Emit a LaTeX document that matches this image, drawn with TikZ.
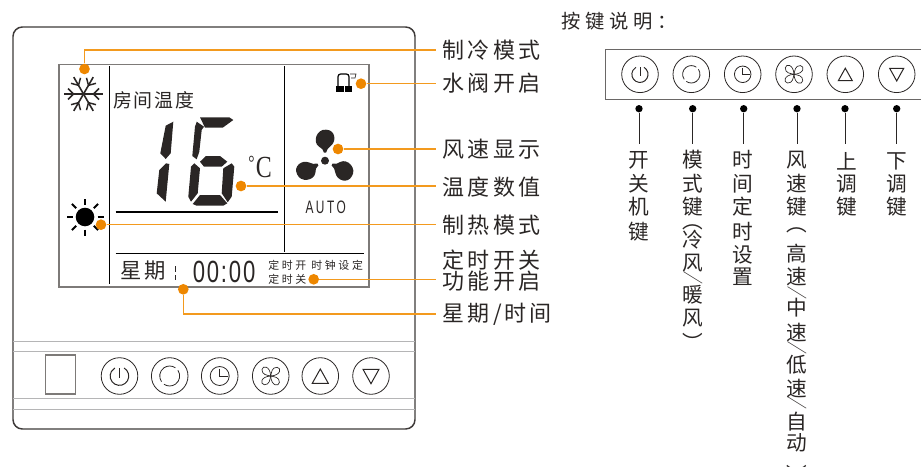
\documentclass[tikz,border=0pt]{standalone}
\usepackage{fontspec}
\setmainfont{Noto Sans CJK SC}
\newfontfamily\labelfont[LetterSpace=14]{Noto Sans CJK SC}
\newfontfamily\smallfont[LetterSpace=24]{Noto Sans CJK SC}
\newfontfamily\roomfont[LetterSpace=9]{Noto Sans CJK SC}
\newfontfamily\titlefont[LetterSpace=24]{Noto Sans CJK SC}
\newfontfamily\autofont[FakeStretch=0.66,LetterSpace=14]{Liberation Sans}
\newfontfamily\clockfont[FakeStretch=0.72,LetterSpace=6]{Liberation Sans}
\newfontfamily\unitfont[FakeStretch=0.78]{Liberation Serif}
\definecolor{inkline}{HTML}{2A2625}
\definecolor{framegrey}{HTML}{3E3A39}
\definecolor{panelgrey}{HTML}{6A6766}
\definecolor{lcdgrey}{HTML}{7D7A78}
\definecolor{softgrey}{HTML}{B5B5B6}
\definecolor{leadline}{HTML}{F39A1E}
\definecolor{leaddot}{HTML}{EE8700}
\newcommand{\vslash}{\scalebox{1}[0.62]{\rotatebox[origin=c]{-90}{／}}}
\tikzset{
  x=0.75pt,y=-0.75pt,
  lead/.style={leadline,line width=1.1pt},
  leaddotn/.style={circle,fill=leaddot,inner sep=0pt,minimum size=8pt},
  rightlabel/.style={anchor=west,inner xsep=5pt,inner ysep=0pt,font=\labelfont\fontsize{16.5pt}{17.5pt}\selectfont,text=inkline,align=left},
  keydot/.style={circle,fill=black,inner sep=0pt,minimum size=5.5pt},
  keyline/.style={inkline,line width=0.6pt},
  vchar/.style={inner sep=0pt,font=\fontsize{15.5pt}{16pt}\selectfont,text=inkline},
  lcdline/.style={black,line width=0.8pt},
  segment/.style={fill=inkline,draw=none},
  fanpetal/.pic={
    \draw[inkline,line width=0.5pt] (0,0) .. controls (-3,-2) and (-8,-4) .. (-6,-9) .. controls (-4,-13) and (3,-10) .. (0,0);
  },
  bigblade/.pic={
    \fill[inkline] (-1,-8) .. controls (-1.5,-11) and (-3,-12) .. (-6,-14) .. controls (-13,-19) and (-8,-32) .. (1,-31) .. controls (10,-31) and (12,-20) .. (6,-15) .. controls (3,-13) and (2,-11) .. (1,-8) -- cycle;
  },
  keyring/.pic={\draw[inkline,line width=0.6pt] (0,0) circle[radius=18.3];},
  poweric/.pic={
    \draw[inkline,line width=0.75pt] (4.6,-8) arc[start angle=-60,end angle=240,radius=9.3];
    \draw[inkline,line width=0.75pt] (0,-8) -- (0,2);
    \pic {keyring};
  },
  modeic/.pic={
    \draw[inkline,line width=0.6pt] (0,0) ++(-35:10) arc[start angle=-35,end angle=125,radius=10];
    \draw[inkline,line width=0.6pt] (0,0) ++(145:10) arc[start angle=145,end angle=305,radius=10];
    \pic {keyring};
  },
  clockic/.pic={
    \draw[inkline,line width=0.6pt] (0,0) circle[radius=9.5];
    \draw[inkline,line width=0.6pt] (0,-7.5) -- (0,0) -- (8,0);
    \pic {keyring};
  },
  fanic/.pic={
    \foreach \ang in {20,110,200,290} \pic[rotate=\ang] {fanpetal};
    \pic {keyring};
  },
  upic/.pic={
    \draw[inkline,line width=0.75pt] (0,-7) -- (8,7.3) -- (-8,7.3) -- cycle;
    \pic {keyring};
  },
  downic/.pic={
    \draw[inkline,line width=0.75pt] (0,7.7) -- (8,-6.7) -- (-8,-6.7) -- cycle;
    \pic {keyring};
  },
}
\begin{document}
\begin{tikzpicture}
    \useasboundingbox (0,0) rectangle (921,467);

    % pannello
    \draw[framegrey,line width=1.1pt,rounded corners=7pt] (13,27) rectangle (415,429);
    \foreach \y in {341,351,398,409} \draw[softgrey,line width=0.7pt] (13,\y) -- (415,\y);
    \draw[lcdgrey,line width=0.9pt] (45.5,355) rectangle (75.5,394);

    % tasti del pannello
    \pic at (119.5,376) {poweric};
    \pic at (169.7,376) {modeic};
    \pic at (219.7,376) {clockic};
    \pic at (270.7,376) {fanic};
    \pic at (320.3,376) {upic};
    \pic at (371,376) {downic};

    % display
    \draw[lcdgrey,line width=1pt] (59,64.5) rectangle (369,287);
    \draw[lcdline] (109.5,66) -- (109.5,284);
    \draw[lcdline] (284.5,66) -- (284.5,252);
    \draw[lcdline] (115.5,212) -- (278,212);
    \draw[lcdline] (115.5,253.7) -- (364,253.7);

    % fiocco di neve
    \foreach \ang in {0,60,...,300} {
        \begin{scope}[shift={(83.5,94)},rotate=\ang]
            \draw[inkline,line width=1.2pt] (0,0) -- (19.5,0);
            \draw[inkline,line width=1.1pt] (10,0) -- (15.5,-5.5);
            \draw[inkline,line width=1.1pt] (10,0) -- (15.5,5.5);
        \end{scope}
    }

    % sole
    \fill[black] (85,217) circle[radius=9.3];
    \foreach \ang in {0,45,...,315} {
        \draw[black,line width=1.5pt,shift={(85,217)},rotate=\ang] (12.5,0) -- (18.5,0);
    }

    % testi del display
    \node[inner sep=0pt,anchor=west,font=\roomfont\fontsize{14.2pt}{15pt}\selectfont,text=inkline] (roomtemp) at (113,100) {房间温度};
    \node[inner sep=0pt,anchor=west,font=\labelfont\fontsize{16pt}{17pt}\selectfont,text=inkline] (weekday) at (120,271) {星期};
    \node[inner sep=0pt,anchor=west,font=\clockfont\fontsize{23pt}{24pt}\selectfont,text=inkline] (clocktime) at (192.5,272) {00:00};
    \node[inner sep=0pt,anchor=west,font=\smallfont\fontsize{8.2pt}{9pt}\selectfont,text=inkline] (timeron) at (268,265) {定时开 时钟设定};
    \node[inner sep=0pt,anchor=west,font=\smallfont\fontsize{8.2pt}{9pt}\selectfont,text=inkline] (timeroff) at (268,279) {定时关};
    \node[inner sep=0pt,font=\autofont\fontsize{13.5pt}{14pt}\selectfont,text=inkline] (autotext) at (325.7,207) {AUTO};
    \node[inner sep=0pt,anchor=west,font=\fontsize{23pt}{23pt}\selectfont,text=inkline] (celsius) at (248,167) {\unitfont\raisebox{6pt}{\fontsize{15pt}{15pt}\selectfont°}\kern1pt C};

    % separatori del giorno
    \draw[inkline,line width=1pt] (175.7,266) -- (175.7,272);
    \draw[inkline,line width=1pt] (175.7,275) -- (175.7,280);

    % cifra 1
    \fill[segment] (165.7,125.7) -- (173.3,121.7) -- (170.7,153.3) -- (165.7,159) -- (160.3,153.3) -- cycle;
    \fill[segment] (166,163.3) -- (169.3,164) -- (165.7,201.7) -- (156.7,193.3) -- (159.3,170) -- cycle;
    % cifra 6
    \fill[segment] (200,117.3) -- (229.3,117.3) -- (233.3,120) -- (222.7,127.7) -- (205,127.7) -- cycle;
    \fill[segment] (196.7,121.7) -- (204,126.7) -- (201.7,130) -- (199.3,151.7) -- (196.7,159.3) -- (192.3,156) -- (195,126.7) -- cycle;
    \fill[segment] (200,161.7) -- (206,156) -- (220,156) -- (227.3,161.7) -- (221.7,166.7) -- (204,166.7) -- cycle;
    \fill[segment] (194.3,163.3) -- (200,168.3) -- (197.7,193.3) -- (191,201.7) -- (188.3,196.7) -- (191,166.7) -- cycle;
    \fill[segment] (231.7,163.3) -- (234.3,166.7) -- (231.7,196.7) -- (227.7,202.3) -- (221.7,193.3) -- (223.3,168.3) -- cycle;
    \fill[segment] (192.7,204) -- (200,195) -- (220,195) -- (227.3,203.3) -- (223.3,205.7) -- (196.7,205.7) -- cycle;

    % ventola grande
    \fill[inkline] (325,160.7) circle[radius=4];
    \pic at (325,160.7) {bigblade};
    \pic[rotate=118] at (325,160.7) {bigblade};
    \pic[rotate=-118] at (325,160.7) {bigblade};

    % valvola
    \fill[black] (336,86) rectangle (344,91.7);
    \fill[black] (345,86) rectangle (352,91.7);
    \draw[black,line width=0.9pt,rounded corners=2pt] (338,86) -- (338,74) -- (349,74) -- (349,86);
    \draw[inkline,line width=0.5pt] (350,74) -- (356,74) -- (355,78) -- (351,78);

    % etichette a destra
    \node[rightlabel] (lblcool) at (436,50) {制冷模式};
    \node[rightlabel] (lblwater) at (436,83) {水阀开启};
    \node[rightlabel] (lblfan) at (436,149) {风速显示};
    \node[rightlabel] (lbltemp) at (436,187) {温度数值};
    \node[rightlabel] (lblheat) at (436,225) {制热模式};
    \node[rightlabel] (lbltimer) at (436,270.5) {定时开关\\[-1.5pt]功能开启};
    \node[rightlabel] (lblweek) at (436,314) {星期/时间};

    % punti arancioni
    \node[leaddotn] (dotcool) at (84.5,69) {};
    \node[leaddotn] (dotwater) at (361,83.7) {};
    \node[leaddotn] (dotfan) at (338,149) {};
    \node[leaddotn] (dottemp) at (241,186) {};
    \node[leaddotn] (dotheat) at (101,224.7) {};
    \node[leaddotn] (dottimer) at (313.7,279.3) {};
    \node[leaddotn] (dotweek) at (183.3,289.3) {};

    % linee di richiamo
    \draw[lead] (dotcool) |- (lblcool.west);
    \draw[lead] (dotwater) -- (dotwater -| lblwater.west);
    \draw[lead] (dotfan) -- (dotfan -| lblfan.west);
    \draw[lead] (dottemp) -- (dottemp -| lbltemp.west);
    \draw[lead] (dotheat) -- (dotheat -| lblheat.west);
    \draw[lead] (dottimer) -- (dottimer -| lbltimer.west);
    \draw[lead] (dotweek) |- (lblweek.west);

    % legenda dei tasti
    \node[inner sep=0pt,anchor=west,font=\titlefont\fontsize{14.5pt}{15pt}\selectfont,text=inkline] (keytitle) at (561,21) {按键说明：};
    \draw[panelgrey,line width=0.7pt] (921,49) -- (605,49) -- (605,99) -- (921,99);
    \pic[scale=0.87] at (640,74.3) {poweric};
    \pic[scale=0.87] at (691.3,74.3) {modeic};
    \pic[scale=0.87] at (742.7,74.3) {clockic};
    \pic[scale=0.87] at (794,74.3) {fanic};
    \pic[scale=0.87] at (845.3,74.3) {upic};
    \pic[scale=0.87] at (896.7,74.3) {downic};

    \foreach \name/\x in {power/639,mode/692.7,time/743.7,speed/797,up/845,down/896.7} {
        \node[keydot] (dot\name) at (\x,108.7) {};
        \coordinate (end\name) at (\x,144);
        \draw[keyline] (dot\name) -- (end\name);
    }

    % testi verticali
    \foreach \ch/\yy [count=\i] in {开/160,关/184,机/207,键/232}
        \node[vchar] (power\i) at (639,\yy) {\ch};
    \foreach \ch/\yy [count=\i] in {模/160,式/184,键/207,︵/227,冷/240,风/263,\vslash/278,暖/295,风/318,︶/342}
        \node[vchar] (mode\i) at (693,\yy) {\ch};
    \foreach \ch/\yy [count=\i] in {时/160,间/184,定/207,时/232,设/255,置/277}
        \node[vchar] (time\i) at (743,\yy) {\ch};
    \foreach \ch/\yy [count=\i] in {风/160,速/184,键/207,︵/230,高/254,速/277,\vslash/293,中/308,速/333,\vslash/348,低/365,速/389,\vslash/403,自/422,动/443,︶/474}
        \node[vchar] (speed\i) at (797,\yy) {\ch};
    \foreach \ch/\yy [count=\i] in {上/161,调/184,键/207}
        \node[vchar] (up\i) at (847,\yy) {\ch};
    \foreach \ch/\yy [count=\i] in {下/161,调/184,键/207}
        \node[vchar] (down\i) at (897,\yy) {\ch};
\end{tikzpicture}
\end{document}
